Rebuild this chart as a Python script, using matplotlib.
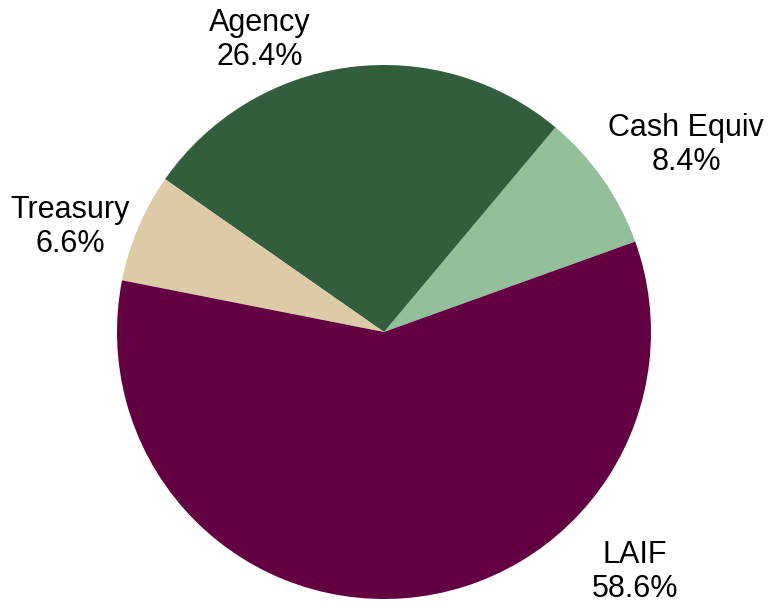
import matplotlib
matplotlib.use("Agg")
import matplotlib.pyplot as plt

categories = ["Cash Equiv", "Agency", "Treasury", "LAIF"]
values = [8.4, 26.4, 6.6, 58.6]
colors = ["#93BF9B", "#335E3E", "#DDCBA8", "#630042"]
# label centres in pixel space (x, y from top)
label_px = [(686, 145), (260, 40), (70, 227), (635, 572)]

W, H = 770, 610
cx, cy, R = 384, 332, 267

plt.rcParams['font.family'] = ['Liberation Sans', 'DejaVu Sans']
fig = plt.figure(figsize=(W / 100, H / 100), dpi=100)
ax = fig.add_axes([0, 0, 1, 1])
ax.pie(values, colors=colors, startangle=19.8, counterclock=True,
       radius=1.0, center=(0, 0), wedgeprops=dict(linewidth=0),
       frame=False)
ax.set_xlim(-cx / R, (W - cx) / R)
ax.set_ylim(-(H - cy) / R, cy / R)
ax.set_aspect('auto')
ax.axis('off')

for cat, val, (px, py) in zip(categories, values, label_px):
    ax.text((px - cx) / R, (cy - py) / R, f"{cat}\n{val:.1f}%",
            ha='center', va='center', fontsize=22, color='black',
            linespacing=1.15)

fig.savefig("out.png", dpi=100, facecolor='white')
